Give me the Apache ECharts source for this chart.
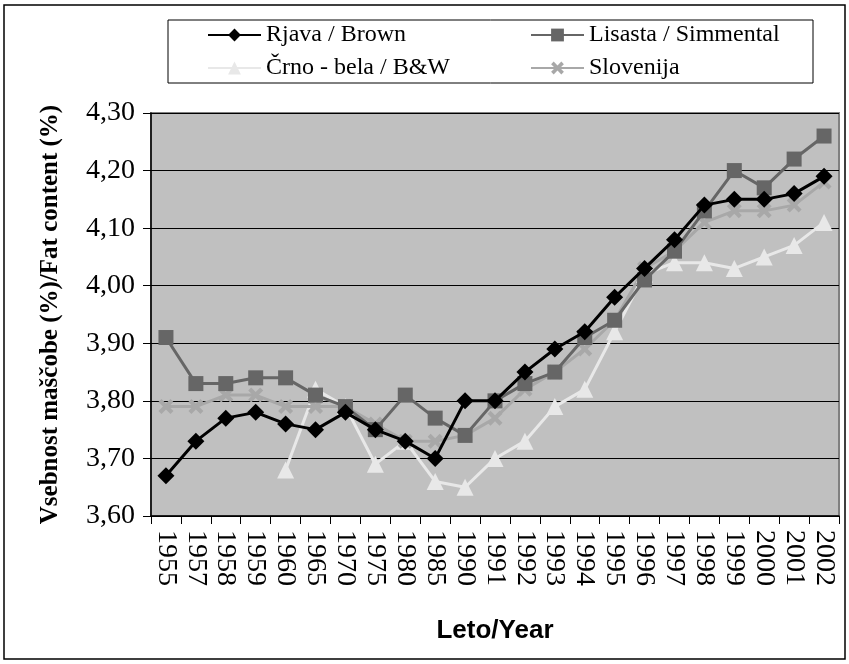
<!DOCTYPE html>
<html>
<head>
<meta charset="utf-8">
<title>Fat content</title>
<script src="https://cdn.jsdelivr.net/npm/echarts@6/dist/echarts.min.js"></script>
<style>
  html, body { margin: 0; padding: 0; background: #fff; }
  #chart { width: 849px; height: 664px; }
</style>
</head>
<body>
<div id="chart"></div>
<script>
// leta / years
var years = ['1955','1957','1958','1959','1960','1965','1970','1975','1980','1985','1990',
             '1991','1992','1993','1994','1995','1996','1997','1998','1999','2000','2001','2002'];

// vsebnost mascobe po pasmah
var brown     = [3.67,3.73,3.77,3.78,3.76,3.75,3.78,3.75,3.73,3.70,3.80,3.80,3.85,3.89,3.92,3.98,4.03,4.08,4.14,4.15,4.15,4.16,4.19];
var simmental = [3.91,3.83,3.83,3.84,3.84,3.81,3.79,3.75,3.81,3.77,3.74,3.80,3.83,3.85,3.91,3.94,4.01,4.06,4.13,4.20,4.17,4.22,4.26];
var bw        = [null,null,null,null,3.68,3.82,3.79,3.69,3.73,3.66,3.65,3.70,3.73,3.79,3.82,3.92,4.02,4.04,4.04,4.03,4.05,4.07,4.11];
var slovenija = [3.79,3.79,3.81,3.81,3.79,3.79,3.79,3.76,3.73,3.73,3.74,3.77,3.82,3.85,3.89,3.94,4.03,4.06,4.11,4.13,4.13,4.14,4.18];

var names = ['Rjava / Brown', 'Lisasta / Simmental', 'Črno - bela / B&W', 'Slovenija'];

var serif = 'Liberation Serif';
var crossPath = 'path://M2,0L5,3L8,0L10,2L7,5L10,8L8,10L5,7L2,10L0,8L3,5L0,2Z';

var chart = echarts.init(document.getElementById('chart'));

// ena legenda na postavko, da sta stolpca poravnana
function legendItem(name, left, top) {
    return {
        data: [name],
        left: left,
        top: top,
        padding: 0,
        itemWidth: 53,
        itemHeight: 16,
        itemGap: 0,
        textStyle: { fontFamily: serif, fontSize: 24, color: '#000' }
    };
}

var option = {
    animation: false,
    backgroundColor: '#fff',
    graphic: [
        // okvir
        { type: 'rect', shape: { x: 4, y: 5, width: 841, height: 654 },
          style: { fill: 'none', stroke: '#000', lineWidth: 1.5 }, z: 0 },
        // okvir legende
        { type: 'rect', shape: { x: 168, y: 20, width: 645, height: 63 },
          style: { fill: 'none', stroke: '#000', lineWidth: 1 }, z: 0 }
    ],
    legend: [
        legendItem(names[0], 207, 23),
        legendItem(names[1], 530, 23),
        legendItem(names[2], 207, 56),
        legendItem(names[3], 530, 56)
    ],
    grid: {
        left: 151, right: 10, top: 113, bottom: 148,
        show: true,
        backgroundColor: '#c0c0c0',
        borderColor: '#808080',
        borderWidth: 2
    },
    xAxis: {
        type: 'category',
        data: years,
        boundaryGap: true,
        name: 'Leto/Year',
        nameLocation: 'middle',
        nameGap: 102,
        nameTextStyle: { fontFamily: 'Liberation Sans', fontWeight: 'bold', fontSize: 26, color: '#000' },
        axisLine: { lineStyle: { color: '#000', width: 1.5 } },
        axisTick: { show: true, alignWithLabel: false, length: 8, lineStyle: { color: '#000' } },
        axisLabel: { rotate: -90, interval: 0, margin: 14, fontFamily: serif, fontSize: 28, color: '#000' }
    },
    yAxis: {
        type: 'value',
        min: 3.6,
        max: 4.3,
        interval: 0.1,
        name: 'Vsebnost maščobe (%)/Fat content (%)',
        nameLocation: 'middle',
        nameGap: 88,
        nameTextStyle: { fontFamily: serif, fontWeight: 'bold', fontSize: 25, color: '#000' },
        axisLine: { show: true, lineStyle: { color: '#000', width: 1.5 } },
        axisTick: { show: true, length: 8, lineStyle: { color: '#000' } },
        axisLabel: {
            margin: 16, fontFamily: serif, fontSize: 28, color: '#000',
            formatter: function (v) { return v.toFixed(2).replace('.', ','); }
        },
        splitLine: { show: true, lineStyle: { color: '#000', width: 1 } }
    },
    series: [
        {
            name: names[0], type: 'line', data: brown,
            symbol: 'diamond', symbolSize: 17,
            lineStyle: { color: '#000', width: 3 },
            itemStyle: { color: '#000' },
            z: 5
        },
        {
            name: names[1], type: 'line', data: simmental,
            symbol: 'rect', symbolSize: 15,
            lineStyle: { color: '#666', width: 3 },
            itemStyle: { color: '#666' },
            z: 4
        },
        {
            name: names[2], type: 'line', data: bw,
            symbol: 'triangle', symbolSize: 17,
            lineStyle: { color: '#e8e8e8', width: 3 },
            itemStyle: { color: '#e8e8e8' },
            z: 3
        },
        {
            name: names[3], type: 'line', data: slovenija,
            symbol: crossPath, symbolSize: 15,
            lineStyle: { color: '#a8a8a8', width: 3 },
            itemStyle: { color: '#a8a8a8' },
            z: 3
        }
    ]
};

chart.setOption(option);
</script>
</body>
</html>
